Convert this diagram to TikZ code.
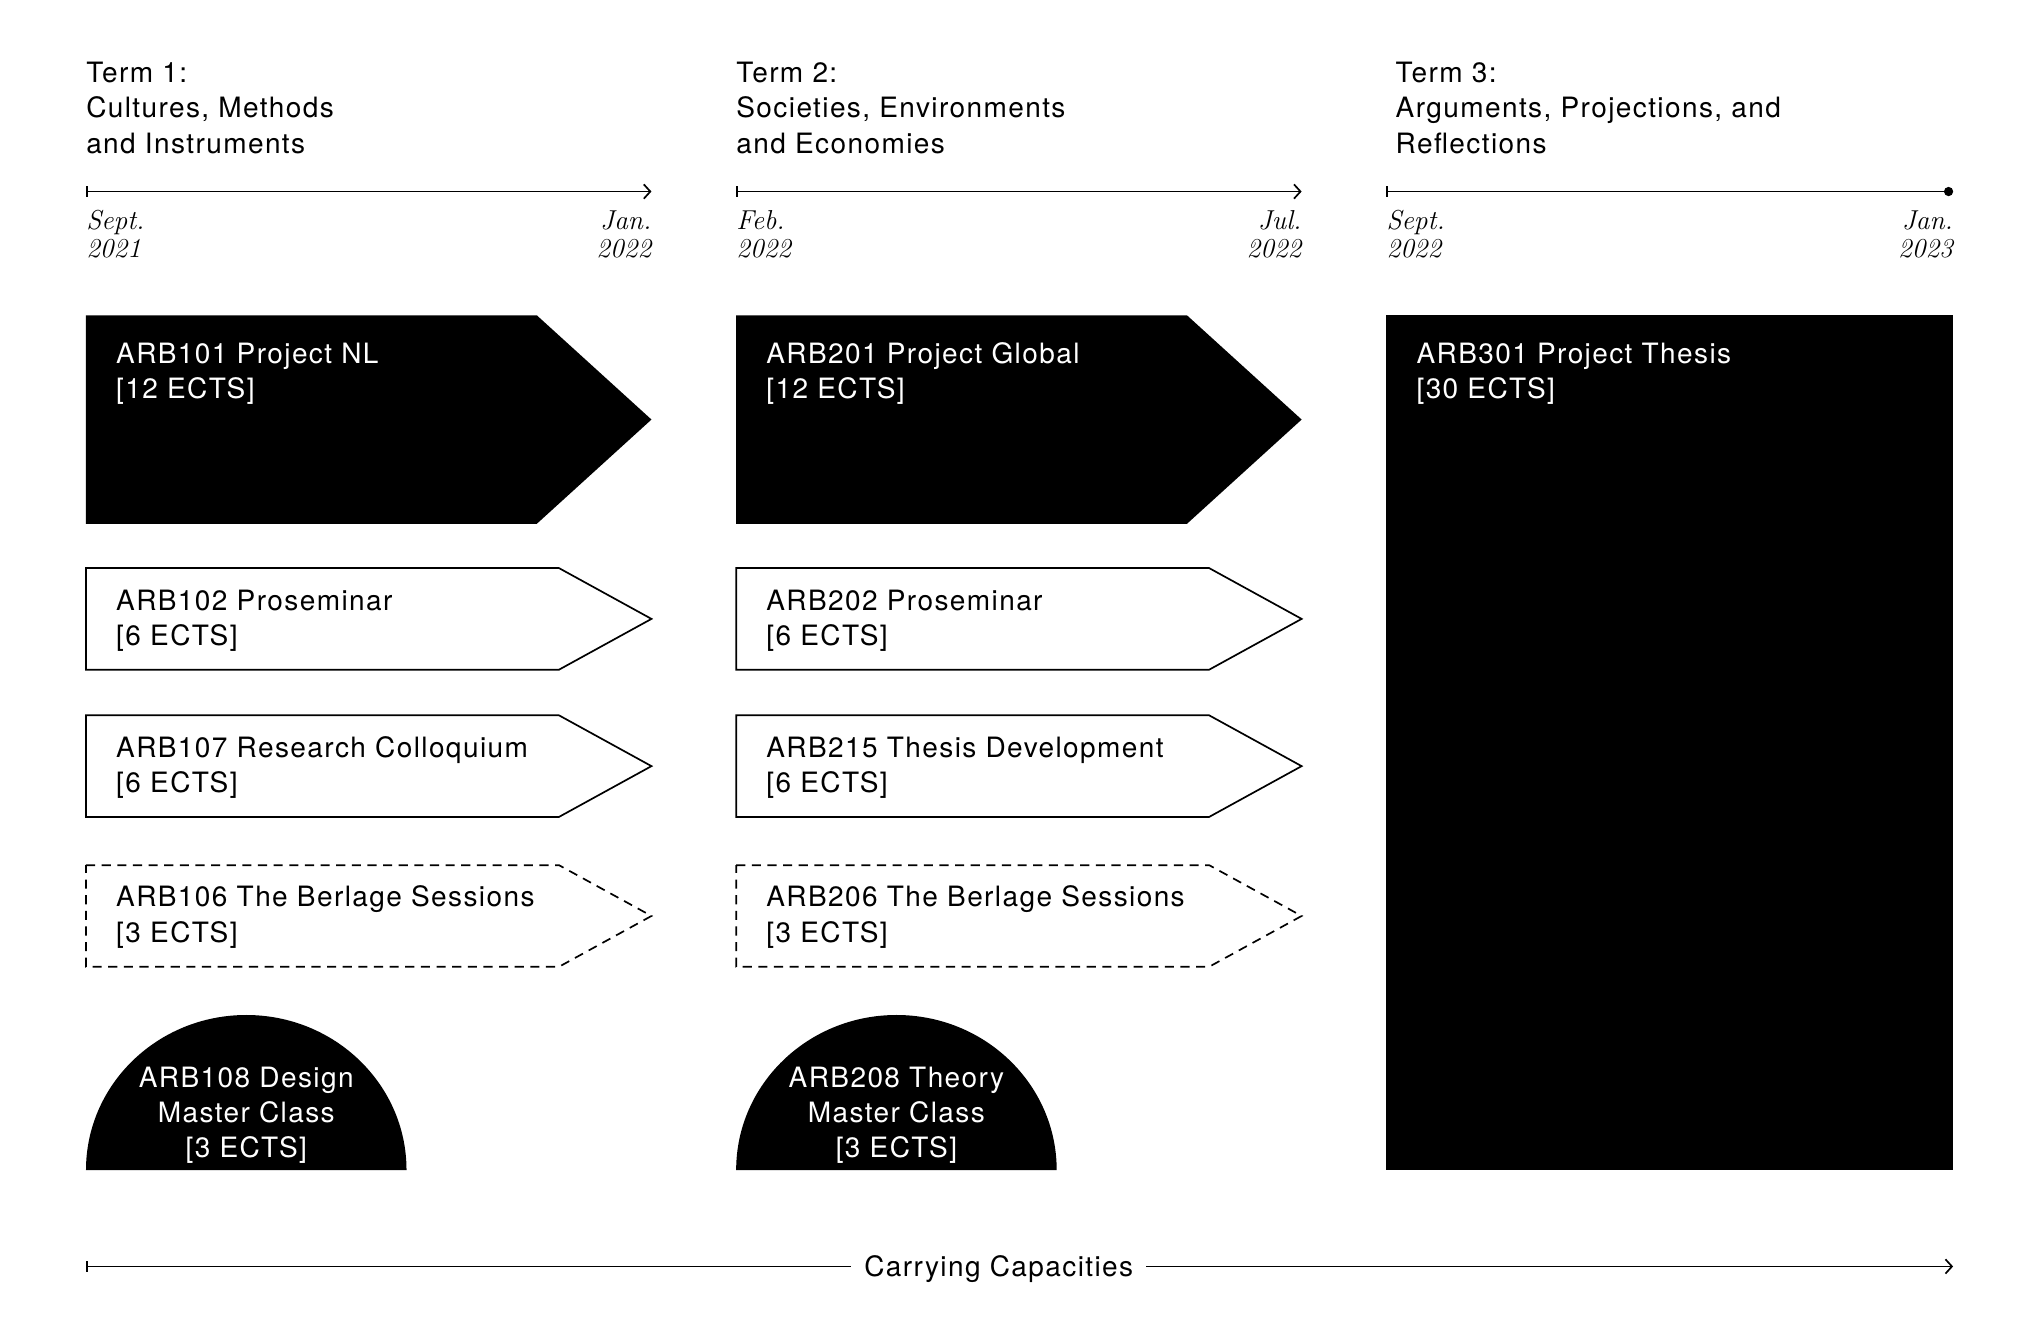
\documentclass[tikz,border=0pt]{standalone}
\usepackage{fontspec}
\newfontfamily\grot{TeX Gyre Heros}[LetterSpace=5]
\usetikzlibrary{arrows.meta}
\tikzset{
  gfont/.style={font=\grot\fontsize{21.5}{27}\selectfont},
  lbl/.style={gfont, inner sep=0pt, anchor=base west, align=left},
  wlbl/.style={lbl, text=white},
  clbl/.style={gfont, inner sep=0pt, anchor=base, align=center, text=white},
  datel/.style={font=\fontsize{21}{22}\selectfont\itshape, inner sep=0pt, anchor=base west, align=left},
  dater/.style={datel, anchor=base east, align=right},
  tline/.style={line width=1.3pt, {Bar[width=8pt]}-{Straight Barb[length=5pt,width=11pt]}},
  tlinedot/.style={line width=1.3pt, {Bar[width=8pt]}-{Circle[length=7pt]}},
  outl/.style={draw, line width=1.3pt, line join=miter},
  dsh/.style={outl, dash pattern=on 7pt off 5pt},
  blk/.style={fill=black},
}
\begin{document}
\begin{tikzpicture}[x=1pt,y=1pt]
\useasboundingbox (0,0) rectangle (1568,-1030);

% ---------- Term titles (anchor = baseline of last line) ----------
\node[lbl] (t1) at (66,-117.5) {Term 1:\\Cultures, Methods\\and Instruments};
\node[lbl] (t2) at (565,-117.5) {Term 2:\\Societies, Environments\\and Economies};
\node[lbl] (t3) at (1071,-117.5) {Term 3:\\Arguments, Projections, and\\Reflections};

% ---------- timelines ----------
\coordinate (a1s) at (66,-147);   \coordinate (a1e) at (500,-147);
\coordinate (a2s) at (565,-147);  \coordinate (a2e) at (999,-147);
\coordinate (a3s) at (1064,-147); \coordinate (a3e) at (1499,-147);
\draw[tline] (a1s) -- (a1e);
\draw[tline] (a2s) -- (a2e);
\draw[tlinedot] (a3s) -- (a3e);

\node[datel] (d1a) at (66,-198) {Sept.\\2021};
\node[dater] (d1b) at (500,-198) {Jan.\\2022};
\node[datel] (d2a) at (565,-198) {Feb.\\2022};
\node[dater] (d2b) at (999,-198) {Jul.\\2022};
\node[datel] (d3a) at (1064,-198) {Sept.\\2022};
\node[dater] (d3b) at (1499,-198) {Jan.\\2023};

% ---------- Term 1 ----------
\fill[blk] (66,-242) -- (412,-242) -- (500,-322) -- (412,-402) -- (66,-402) -- cycle;
\node[wlbl] (c101) at (89,-306) {ARB101 Project NL\\{}[12 ECTS]};

\draw[outl] (66,-436) -- (429,-436) -- (500,-475) -- (429,-514) -- (66,-514) -- cycle;
\node[lbl] (c102) at (89,-495.5) {ARB102 Proseminar\\{}[6 ECTS]};

\draw[outl] (66,-549) -- (429,-549) -- (500,-588) -- (429,-627) -- (66,-627) -- cycle;
\node[lbl] (c107) at (89,-608) {ARB107 Research Colloquium\\{}[6 ECTS]};

\draw[dsh] (66,-664) -- (429,-664) -- (500,-703) -- (429,-742) -- (66,-742) -- cycle;
\node[lbl] (c106) at (89,-723) {ARB106 The Berlage Sessions\\{}[3 ECTS]};

\fill[blk] (66,-898) arc[start angle=180, end angle=0, x radius=123pt, y radius=119pt] -- cycle;
\node[clbl] (c108) at (189,-888.5) {ARB108 Design\\Master Class\\{}[3 ECTS]};

% ---------- Term 2 ----------
\fill[blk] (565,-242) -- (911,-242) -- (999,-322) -- (911,-402) -- (565,-402) -- cycle;
\node[wlbl] (c201) at (588,-306) {ARB201 Project Global\\{}[12 ECTS]};

\draw[outl] (565,-436) -- (928,-436) -- (999,-475) -- (928,-514) -- (565,-514) -- cycle;
\node[lbl] (c202) at (588,-495.5) {ARB202 Proseminar\\{}[6 ECTS]};

\draw[outl] (565,-549) -- (928,-549) -- (999,-588) -- (928,-627) -- (565,-627) -- cycle;
\node[lbl] (c215) at (588,-608) {ARB215 Thesis Development\\{}[6 ECTS]};

\draw[dsh] (565,-664) -- (928,-664) -- (999,-703) -- (928,-742) -- (565,-742) -- cycle;
\node[lbl] (c206) at (588,-723) {ARB206 The Berlage Sessions\\{}[3 ECTS]};

\fill[blk] (565,-898) arc[start angle=180, end angle=0, x radius=123pt, y radius=119pt] -- cycle;
\node[clbl] (c208) at (688,-888.5) {ARB208 Theory\\Master Class\\{}[3 ECTS]};

% ---------- Term 3 ----------
\fill[blk] (1064,-242) rectangle (1499,-898);
\node[wlbl] (c301) at (1087,-306) {ARB301 Project Thesis\\{}[30 ECTS]};

% ---------- Carrying Capacities ----------
\coordinate (ccs) at (66,-972);
\coordinate (cce) at (1499,-972);
\node[gfont, inner ysep=0pt, inner xsep=10pt, anchor=base] (cc) at (766.5,-979.5) {Carrying Capacities};
\draw[line width=1.3pt, {Bar[width=8pt]}-] (ccs) -- (ccs -| cc.west);
\draw[line width=1.3pt, -{Straight Barb[length=5pt,width=11pt]}] (cce -| cc.east) -- (cce);
\end{tikzpicture}
\end{document}
